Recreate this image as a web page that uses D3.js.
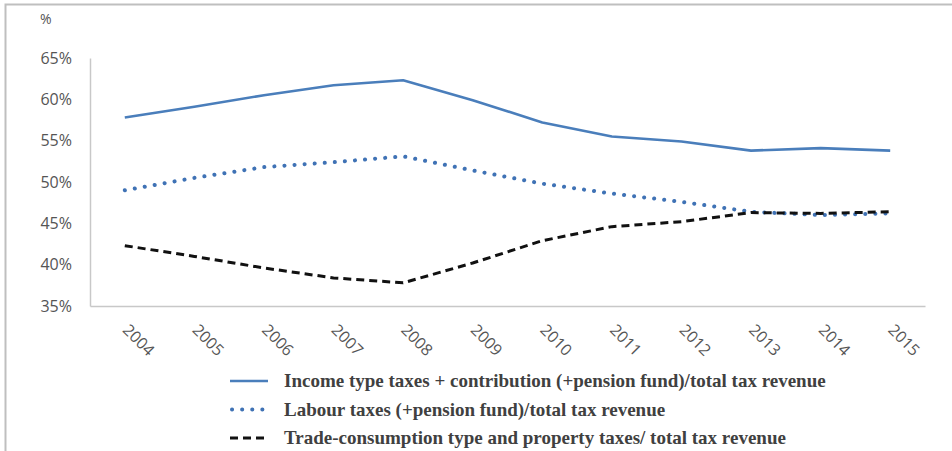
<!DOCTYPE html>
<html lang="en">
<head>
<meta charset="utf-8">
<script src="https://d3js.org/d3.v7.min.js"></script>
<style>
  body { margin: 0; background: #fff; }
</style>
</head>
<body>
<script>
var width = 952,
    height = 451;

// data
var years = ['2004', '2005', '2006', '2007', '2008', '2009', '2010', '2011', '2012', '2013', '2014', '2015'];
var incomeTaxes = [57.8, 59.1, 60.5, 61.7, 62.3, 59.9, 57.2, 55.5, 54.9, 53.8, 54.1, 53.8];
var labourTaxes = [49.0, 50.5, 51.8, 52.4, 53.1, 51.4, 49.8, 48.6, 47.6, 46.4, 46.0, 46.2];
var tradeTaxes = [42.3, 41.0, 39.6, 38.4, 37.8, 40.2, 42.9, 44.6, 45.2, 46.3, 46.2, 46.4];
var yTicks = [35, 40, 45, 50, 55, 60, 65];
var seriesNames = [
  'Income type taxes + contribution (+pension fund)/total tax revenue',
  'Labour taxes (+pension fund)/total tax revenue',
  'Trade-consumption type and property taxes/ total tax revenue'
];

var series = [
  { name: seriesNames[0], values: incomeTaxes, color: '#4a7ebb', width: 2.6, dash: null, cap: 'butt' },
  { name: seriesNames[1], values: labourTaxes, color: '#3f72b5', width: 4, dash: '0.1,10', cap: 'round' },
  { name: seriesNames[2], values: tradeTaxes, color: '#111', width: 3, dash: '8,5', cap: 'butt' }
];

var svg = d3.select('body')
  .append('svg')
  .attr('width', width)
  .attr('height', height);

// frame
svg.append('path')
  .attr('d', 'M5.5,' + height + 'V4.5H' + width)
  .attr('fill', 'none')
  .attr('stroke', '#bfbfbf')
  .attr('stroke-width', 2);

var x = d3.scaleBand().domain(years).range([90, 925]);
var y = d3.scaleLinear().domain([35, 65]).range([306, 58]);

// y axis
var yAxis = svg.append('g')
  .attr('transform', 'translate(90,0)')
  .call(d3.axisLeft(y).tickValues(yTicks).tickSize(0).tickPadding(18)
    .tickFormat(function(d) { return d + '%'; }));
yAxis.select('.domain').attr('stroke', '#c8c8c8').attr('stroke-width', 1.5);
yAxis.selectAll('text')
  .attr('font-family', 'Open Sans, sans-serif')
  .attr('font-size', 16)
  .attr('fill', '#555');

svg.append('text')
  .attr('x', 40)
  .attr('y', 24)
  .attr('font-family', 'Open Sans, sans-serif')
  .attr('font-size', 14)
  .attr('fill', '#555')
  .text('%');

// x axis
var xAxis = svg.append('g')
  .attr('transform', 'translate(0,306)')
  .call(d3.axisBottom(x).tickSize(0).tickPadding(0));
xAxis.select('.domain').attr('stroke', '#c8c8c8').attr('stroke-width', 1.5);
xAxis.selectAll('text')
  .attr('font-family', 'Open Sans, sans-serif')
  .attr('font-size', 16)
  .attr('fill', '#555')
  .attr('text-anchor', 'start')
  .attr('dy', 0)
  .attr('transform', 'translate(-3,25) rotate(45)');

// lines
var line = d3.line()
  .x(function(d, i) { return x(years[i]) + x.bandwidth() / 2; })
  .y(function(d) { return y(d); });

series.forEach(function(s) {
  svg.append('path')
    .datum(s.values)
    .attr('d', line)
    .attr('fill', 'none')
    .attr('stroke', s.color)
    .attr('stroke-width', s.width)
    .attr('stroke-dasharray', s.dash)
    .attr('stroke-linecap', s.cap)
    .attr('stroke-linejoin', 'round');
});

// legend
var legend = svg.append('g');
series.forEach(function(s, i) {
  var ly = 381 + i * 28.5;
  legend.append('line')
    .attr('x1', s.dash === '0.1,10' ? 232 : 230)
    .attr('x2', 268)
    .attr('y1', ly)
    .attr('y2', ly)
    .attr('stroke', s.color)
    .attr('stroke-width', s.width)
    .attr('stroke-dasharray', s.dash)
    .attr('stroke-linecap', s.cap);
  legend.append('text')
    .attr('x', 284)
    .attr('y', ly + 6)
    .attr('font-family', 'Liberation Serif, Times New Roman, serif')
    .attr('font-weight', 'bold')
    .attr('font-size', 19)
    .attr('fill', '#404040')
    .text(s.name);
});
</script>
</body>
</html>
